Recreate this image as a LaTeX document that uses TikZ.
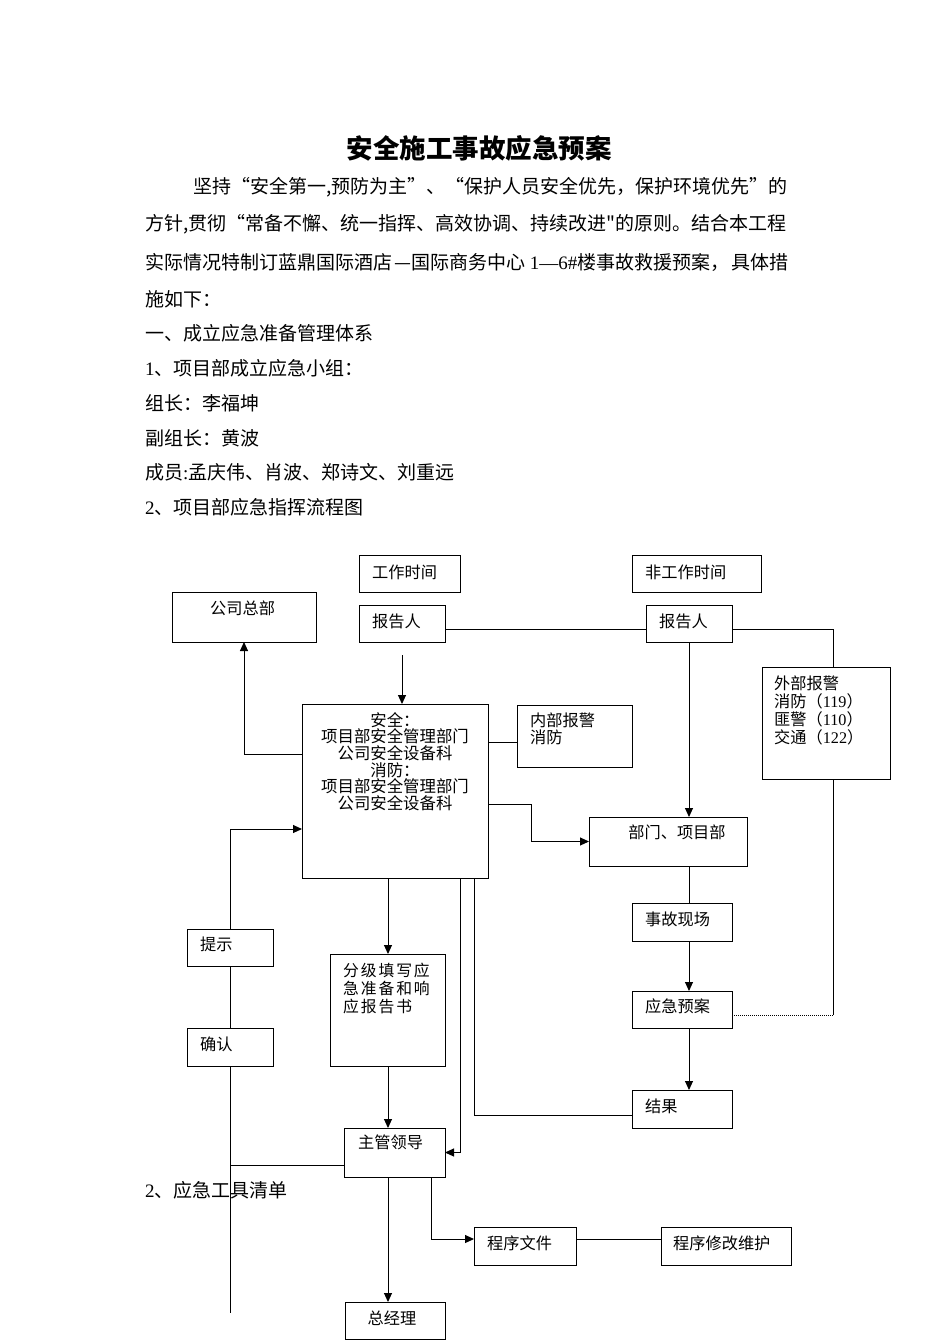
\documentclass[tikz,border=0pt]{standalone}
\usepackage{fontspec}
\setmainfont{Liberation Serif}
\newfontfamily\cjk{Noto Sans CJK SC}
\usetikzlibrary{arrows.meta,calc}
\XeTeXlinebreaklocale "zh"
\XeTeXlinebreakskip=0pt plus 1pt
\newcommand\lat[1]{{\rmfamily #1}}
\begin{document}
\begin{tikzpicture}[x=1pt,y=-1pt,
  box/.style={draw, line width=1pt, inner sep=0pt, outer sep=0pt, anchor=north west},
  ft/.style={font=\cjk\fontsize{16.2}{17}\selectfont, inner sep=0pt, anchor=west},
  body/.style={font=\cjk\fontsize{19}{19}\selectfont, inner sep=0pt, anchor=west},
  conn/.style={line width=1pt},
  arr/.style={line width=1pt, -{Triangle[length=9pt,width=8pt]}}]
\fill[white] (0,0) rectangle (950,1344);
\useasboundingbox (0,0) rectangle (950,1344);

% ---------- text body ----------
\node[inner sep=0pt, font=\cjk\bfseries\fontsize{26.5}{26.5}\selectfont] (title) at (479,148) {安全施工事故应急预案};
\node[body] (l1) at (193,187) {\makebox[595pt][s]{坚持“安全第一,预防为主”、“保护人员安全优先，保护环境优先”的}};
\node[body] (l2) at (145,224) {\makebox[643pt][s]{方针,贯彻“常备不懈、统一指挥、高效协调、持续改进"的原则。结合本工程}};
\node[body] (l3) at (145,262) {\makebox[643pt][s]{实际情况特制订蓝鼎国际酒店\hskip 0pt plus 1fil—国际商务中心\hskip 3pt plus 1fil\lat{1—6\#}楼事故救援预案，\hskip 0pt plus 1fil 具体措}};
\node[body] (l4) at (145,299) {施如下：};
\node[body] (l5) at (145,333) {一、成立应急准备管理体系};
\node[body] (l6) at (145,368) {\lat{1}、项目部成立应急小组：};
\node[body] (l7) at (145,403) {组长：李福坤};
\node[body] (l8) at (145,438) {副组长：黄波};
\node[body] (l9) at (145,472) {成员\lat{:}孟庆伟、肖波、郑诗文、刘重远};
\node[body] (l10) at (145,507) {\lat{2}、项目部应急指挥流程图};
\node[body] (l11) at (145,1190) {\lat{2}、应急工具清单};

% ---------- boxes ----------
\node[box,minimum width=101pt,minimum height=37pt] (work) at (359,555) {};
\node[ft] (tw) at (372,572) {工作时间};
\node[box,minimum width=129pt,minimum height=37pt] (nonwork) at (632,555) {};
\node[ft] (tnw) at (645,572) {非工作时间};
\node[box,minimum width=144pt,minimum height=50pt] (hq) at (172,592) {};
\node[ft] (thq) at (210,608) {公司总部};
\node[box,minimum width=86pt,minimum height=37pt] (rep1) at (359,605) {};
\node[ft] (trep1) at (372,621) {报告人};
\node[box,minimum width=86pt,minimum height=37pt] (rep2) at (646,605) {};
\node[ft] (trep2) at (659,621) {报告人};
\node[box,minimum width=128pt,minimum height=112pt] (ext) at (762,667) {};
\node[ft,align=left,font=\cjk\fontsize{16.2}{18}\selectfont] (text) at (774,710) {外部报警\\消防（\lat{119}）\\匪警（\lat{110}）\\交通（\lat{122}）};
\node[box,minimum width=186pt,minimum height=174pt] (main) at (302,704) {};
\node[ft,anchor=center,align=center,font=\cjk\fontsize{16.4}{16.7}\selectfont] (tmain) at (395,761.5) {安全：\\项目部安全管理部门\\公司安全设备科\\消防：\\项目部安全管理部门\\公司安全设备科};
\node[box,minimum width=115pt,minimum height=62pt] (inner) at (517,705) {};
\node[ft,align=left] (tinner) at (530,728.5) {内部报警\\消防};
\node[box,minimum width=158pt,minimum height=49pt] (dept) at (589,817) {};
\node[ft,anchor=center] (tdept) at (677,832) {部门、项目部};
\node[box,minimum width=100pt,minimum height=38pt] (scene) at (632,903) {};
\node[ft] (tscene) at (645,919) {事故现场};
\node[box,minimum width=100pt,minimum height=37pt] (plan) at (632,991) {};
\node[ft] (tplan) at (645,1006) {应急预案};
\node[box,minimum width=100pt,minimum height=38pt] (result) at (632,1090) {};
\node[ft] (tresult) at (645,1106) {结果};
\node[box,minimum width=115pt,minimum height=112pt] (fill) at (330,954) {};
\node[ft,align=left,font=\cjk\fontsize{15.8}{18}\selectfont\addfontfeatures{LetterSpace=12}] (tfill) at (343,988) {分级填写应\\急准备和响\\应报告书};
\node[box,minimum width=86pt,minimum height=37pt] (hint) at (187,929) {};
\node[ft] (thint) at (200,944) {提示};
\node[box,minimum width=86pt,minimum height=38pt] (confirm) at (187,1028) {};
\node[ft] (tconfirm) at (200,1044) {确认};
\node[box,minimum width=101pt,minimum height=49pt] (lead) at (344,1128) {};
\node[ft] (tlead) at (358,1142) {主管领导};
\node[box,minimum width=100pt,minimum height=37pt] (gm) at (345,1302) {};
\node[ft,anchor=center] (tgm) at (392,1318) {总经理};
\node[box,minimum width=102pt,minimum height=38pt] (proc) at (474,1227) {};
\node[ft] (tproc) at (487,1243) {程序文件};
\node[box,minimum width=130pt,minimum height=38pt] (maint) at (661,1227) {};
\node[ft] (tmaint) at (673,1243) {程序修改维护};

% ---------- helper coordinates ----------
\coordinate (col) at (689,0);
\coordinate (xr) at (833,0);
\coordinate (x474) at (474,0);
\coordinate (x460) at (460,0);
\coordinate (x431) at (431,0);
\coordinate (x531) at (531,0);
\coordinate (x388) at (388,0);
\coordinate (x244) at (244,0);
\coordinate (astart) at (402,655);
\coordinate (vend) at (230,1313);
\path ([yshift=-12.5pt]lead.west) coordinate (lw);
\path ([yshift=-6pt]inner.west) coordinate (iw);
\path ([yshift=-5.5pt]plan.east) coordinate (pe);
\path ([yshift=-6pt]result.west) coordinate (rw);
\path ([yshift=7pt]proc.west) coordinate (pw);

% ---------- connectors ----------
\draw[conn] ([yshift=-5.5pt]rep1.east) -- ([yshift=-5.5pt]rep2.west);
\draw[conn] ([yshift=-5.5pt]rep2.east) -| (xr |- ext.north);
\draw[arr] (astart) -- (astart |- main.north);
\draw[arr] ([yshift=37pt]main.west) -| (x244 |- hq.south);
\draw[arr] (hint.north) |- ([yshift=-38pt]main.west);
\draw[conn] (hint.south) -- (confirm.north);
\draw[conn] (confirm.south) -- (vend);
\draw[conn] (lw) -- (vend |- lw);
\draw[conn] (main.east |- iw) -- (iw);
\draw[arr] ([yshift=-13pt]main.east) -| (x531 |- dept.west) -- (dept.west);
\draw[arr] (col |- rep2.south) -- (col |- dept.north);
\draw[conn] (col |- dept.south) -- (col |- scene.north);
\draw[arr] (col |- scene.south) -- (col |- plan.north);
\draw[arr] (col |- plan.south) -- (col |- result.north);
\draw[conn, densely dotted] (pe) -- (xr |- pe);
\draw[conn] (xr |- pe) -- (xr |- ext.south);
\draw[conn] (rw) -| (x474 |- main.south);
\draw[arr] (x460 |- main.south) |- (lead.east);
\draw[arr] (x388 |- main.south) -- (x388 |- fill.north);
\draw[arr] (x388 |- fill.south) -- (x388 |- lead.north);
\draw[arr] (x388 |- lead.south) -- (x388 |- gm.north);
\draw[arr] (x431 |- lead.south) |- (pw);
\draw[conn] ([yshift=7pt]proc.east) -- ([yshift=7pt]maint.west);
\end{tikzpicture}
\end{document}
